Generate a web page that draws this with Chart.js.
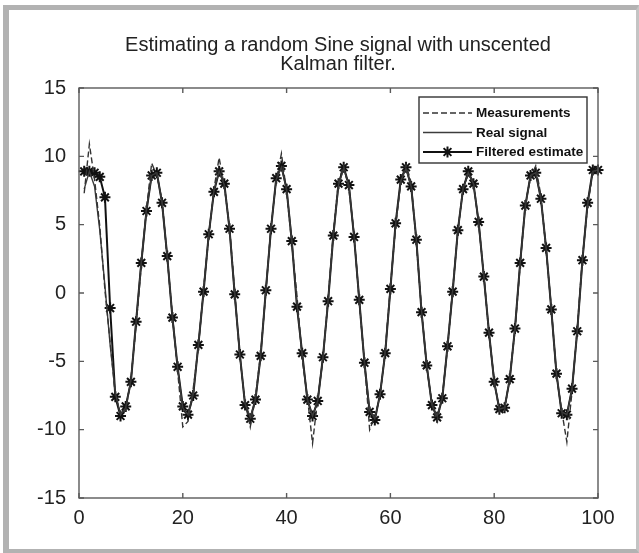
<!DOCTYPE html>
<html>
<head>
<meta charset="utf-8">
<script src="https://cdn.jsdelivr.net/npm/chart.js@4/dist/chart.umd.min.js"></script>
<style>
  html, body { margin: 0; padding: 0; background: #ffffff; }
  #wrap { position: relative; width: 639px; height: 553px; overflow: hidden; }
  #frame { position: absolute; left: 3px; top: 5px; width: 627px; height: 539px;
           border-top: 5px solid #b2b2b2; border-left: 6px solid #b2b2b2;
           border-bottom: 4px solid #b2b2b2; border-right: 3px solid #c4c4c4; }
  #c { position: absolute; left: 0; top: 0; }
</style>
</head>
<body>
<div id="wrap">
  <div id="frame"></div>
  <canvas id="c" width="639" height="553"></canvas>
</div>
<script>
const titleLines = ['Estimating a random Sine signal with unscented', 'Kalman filter.'];
const seriesNames = ['Measurements', 'Real signal', 'Filtered estimate'];
const xTicks = [0, 20, 40, 60, 80, 100];
const yTicks = [-15, -10, -5, 0, 5, 10, 15];

const measurements = [
  7.3, 10.9, 8.3, 4.9, 0.2, -3.6, -7.5, -8.8, -8.6, -6.3,
  -2.4, 2.0, 6.2, 9.5, 8.6, 6.8, 2.5, -1.6, -5.7, -9.8,
  -9.4, -7.0, -4.0, 0.3, 4.1, 7.6, 9.9, 7.8, 4.9, 0.1,
  -4.7, -8.0, -9.8, -7.6, -4.4, 0.0, 4.9, 8.2, 10.2, 7.4,
  3.6, -0.2, -4.8, -7.6, -11.0, -7.7, -4.9, -0.4, 4.4, 8.2,
  9.3, 7.6, 4.3, -0.7, -5.0, -10.0, -9.0, -7.6, -4.2, 0.5,
  4.9, 8.1, 9.4, 8.1, 3.6, -1.2, -5.5, -8.0, -9.4, -7.5,
  -4.1, 0.3, 4.4, 7.8, 8.6, 8.2, 5.0, 1.4, -3.1, -6.3,
  -8.7, -8.6, -6.1, -2.8, 2.0, 6.6, 8.4, 9.3, 7.1, 3.1,
  -1.0, -6.1, -8.6, -10.9, -7.2, -2.6, 2.6, 6.4, 8.8, 8.7
];
const realSignal = [
  7.6, 8.9, 7.8, 4.6, 0.5, -3.8, -7.3, -8.9, -8.4, -6.4,
  -2.2, 2.3, 6.1, 8.6, 8.8, 6.6, 2.7, -1.8, -5.5, -8.4,
  -8.9, -7.4, -3.8, 0.2, 4.3, 7.5, 8.9, 7.9, 4.7, -0.1,
  -4.6, -8.1, -9.1, -7.8, -4.6, 0.2, 4.8, 8.3, 9.2, 7.6,
  3.9, -0.8, -4.5, -7.8, -9.0, -7.9, -4.7, -0.5, 4.2, 7.9,
  9.1, 7.9, 4.2, -0.5, -5.1, -8.6, -9.2, -7.5, -4.3, 0.3,
  5.0, 8.2, 9.1, 7.8, 3.9, -1.3, -5.3, -8.2, -9.0, -7.7,
  -3.9, 0.2, 4.6, 7.6, 8.8, 8.0, 5.2, 1.2, -2.9, -6.5,
  -8.5, -8.4, -6.3, -2.6, 2.2, 6.3, 8.6, 8.8, 6.9, 3.3,
  -1.2, -5.9, -8.7, -8.9, -7.0, -2.8, 2.4, 6.5, 8.9, 9.0
];
const filtered = [
  8.9, 8.9, 8.8, 8.5, 7.0, -1.1, -7.6, -9.0, -8.3, -6.5,
  -2.1, 2.2, 6.0, 8.6, 8.8, 6.6, 2.7, -1.8, -5.4, -8.3,
  -8.9, -7.5, -3.8, 0.1, 4.3, 7.4, 8.9, 8.0, 4.7, -0.1,
  -4.5, -8.2, -9.2, -7.8, -4.6, 0.2, 4.7, 8.4, 9.3, 7.6,
  3.8, -1.0, -4.4, -7.8, -9.0, -7.9, -4.7, -0.6, 4.2, 8.0,
  9.2, 7.9, 4.1, -0.5, -5.1, -8.7, -9.3, -7.4, -4.4, 0.3,
  5.1, 8.3, 9.2, 7.8, 3.9, -1.4, -5.3, -8.2, -9.1, -7.7,
  -3.9, 0.1, 4.6, 7.6, 8.9, 8.0, 5.2, 1.2, -2.9, -6.5,
  -8.5, -8.4, -6.3, -2.6, 2.2, 6.4, 8.6, 8.8, 6.9, 3.3,
  -1.2, -5.9, -8.8, -8.9, -7.0, -2.8, 2.4, 6.6, 9.0, 9.0
];
const steps = filtered.map((_, i) => i + 1);

const FONT = 'Liberation Sans, Arial, Helvetica, sans-serif';
const AXIS_COLOR = '#5a5a5a';

const toXY = arr => arr.map((v, i) => ({ x: steps[i], y: v }));

// Box around the plot with inward ticks on all four sides (MATLAB style) + legend box
const boxPlugin = {
  id: 'boxTicks',
  afterDatasetsDraw(chart) {
    const { ctx, chartArea: a, scales } = chart;
    ctx.save();
    ctx.strokeStyle = AXIS_COLOR;
    ctx.lineWidth = 1.4;
    ctx.strokeRect(a.left, a.top, a.right - a.left, a.bottom - a.top);
    const L = 5;
    ctx.beginPath();
    scales.x.ticks.forEach(t => {
      const px = scales.x.getPixelForValue(t.value);
      ctx.moveTo(px, a.bottom); ctx.lineTo(px, a.bottom - L);
      ctx.moveTo(px, a.top); ctx.lineTo(px, a.top + L);
    });
    scales.y.ticks.forEach(t => {
      const py = scales.y.getPixelForValue(t.value);
      ctx.moveTo(a.left, py); ctx.lineTo(a.left + L, py);
      ctx.moveTo(a.right, py); ctx.lineTo(a.right - L, py);
    });
    ctx.stroke();
    ctx.restore();
  },
  afterDraw(chart) {
    const { ctx } = chart;
    const ds = chart.data.datasets;
    const bx = 419, by = 97, bw = 168, bh = 66;
    ctx.save();
    ctx.fillStyle = '#ffffff';
    ctx.fillRect(bx, by, bw, bh);
    ctx.strokeStyle = '#333333';
    ctx.lineWidth = 1.4;
    ctx.strokeRect(bx, by, bw, bh);
    ctx.font = 'bold 13.5px ' + FONT;
    ctx.textBaseline = 'middle';
    ctx.textAlign = 'left';
    const rowY = [113, 132.5, 152];
    ds.forEach((d, i) => {
      const y = rowY[i];
      ctx.beginPath();
      ctx.setLineDash(d.borderDash || []);
      ctx.strokeStyle = d.borderColor;
      ctx.lineWidth = d.borderWidth;
      ctx.moveTo(423, y); ctx.lineTo(472, y);
      ctx.stroke();
      ctx.setLineDash([]);
      if (d.pointRadius > 0) {
        ctx.strokeStyle = d.pointBorderColor;
        Chart.helpers.drawPoint(ctx, {
          pointStyle: d.pointStyle, radius: d.pointRadius, borderWidth: d.pointBorderWidth
        }, 447.5, y);
      }
      ctx.fillStyle = '#111111';
      ctx.fillText(d.label, 476, y + 0.5);
    });
    ctx.restore();
  }
};

new Chart(document.getElementById('c'), {
  type: 'line',
  data: {
    datasets: [
      {
        label: seriesNames[0], data: toXY(measurements),
        borderColor: '#333333', borderWidth: 1.4, borderDash: [6, 3],
        pointRadius: 0, tension: 0, fill: false
      },
      {
        label: seriesNames[1], data: toXY(realSignal),
        borderColor: '#3c3c3c', borderWidth: 1.4,
        pointRadius: 0, tension: 0, fill: false
      },
      {
        label: seriesNames[2], data: toXY(filtered),
        borderColor: '#111111', borderWidth: 2,
        pointStyle: 'star', pointRadius: 5.5, pointBorderWidth: 2,
        pointBorderColor: '#111111', pointBackgroundColor: '#111111',
        tension: 0, fill: false, clip: false
      }
    ]
  },
  options: {
    responsive: false,
    animation: false,
    devicePixelRatio: 1,
    layout: { padding: { left: 37, right: 0, top: 0, bottom: 0 } },
    plugins: {
      legend: { display: false },
      tooltip: { enabled: false },
      title: {
        display: true,
        text: titleLines,
        color: '#222222',
        font: { family: FONT, size: 20, weight: 'normal', lineHeight: 0.95 },
        padding: { top: 36, bottom: 14 }
      }
    },
    scales: {
      x: {
        type: 'linear', min: 0, max: 100,
        afterBuildTicks: s => { s.ticks = xTicks.map(v => ({ value: v })); },
        afterFit: s => { s.height = 55; },
        grid: { display: false, drawTicks: false },
        border: { display: false },
        ticks: { color: '#222222', font: { family: FONT, size: 20 }, padding: 8, maxRotation: 0 }
      },
      y: {
        type: 'linear', min: -15, max: 15, position: 'left',
        afterBuildTicks: s => { s.ticks = yTicks.map(v => ({ value: v })); },
        afterFit: s => { s.width = 42; },
        grid: { display: false, drawTicks: false },
        border: { display: false },
        ticks: { color: '#222222', font: { family: FONT, size: 20 }, padding: 13 }
      },
      yRight: {
        type: 'linear', min: -15, max: 15, position: 'right',
        afterFit: s => { s.width = 41; },
        grid: { display: false, drawTicks: false },
        border: { display: false },
        ticks: { display: false }
      }
    }
  },
  plugins: [boxPlugin]
});
</script>
</body>
</html>
